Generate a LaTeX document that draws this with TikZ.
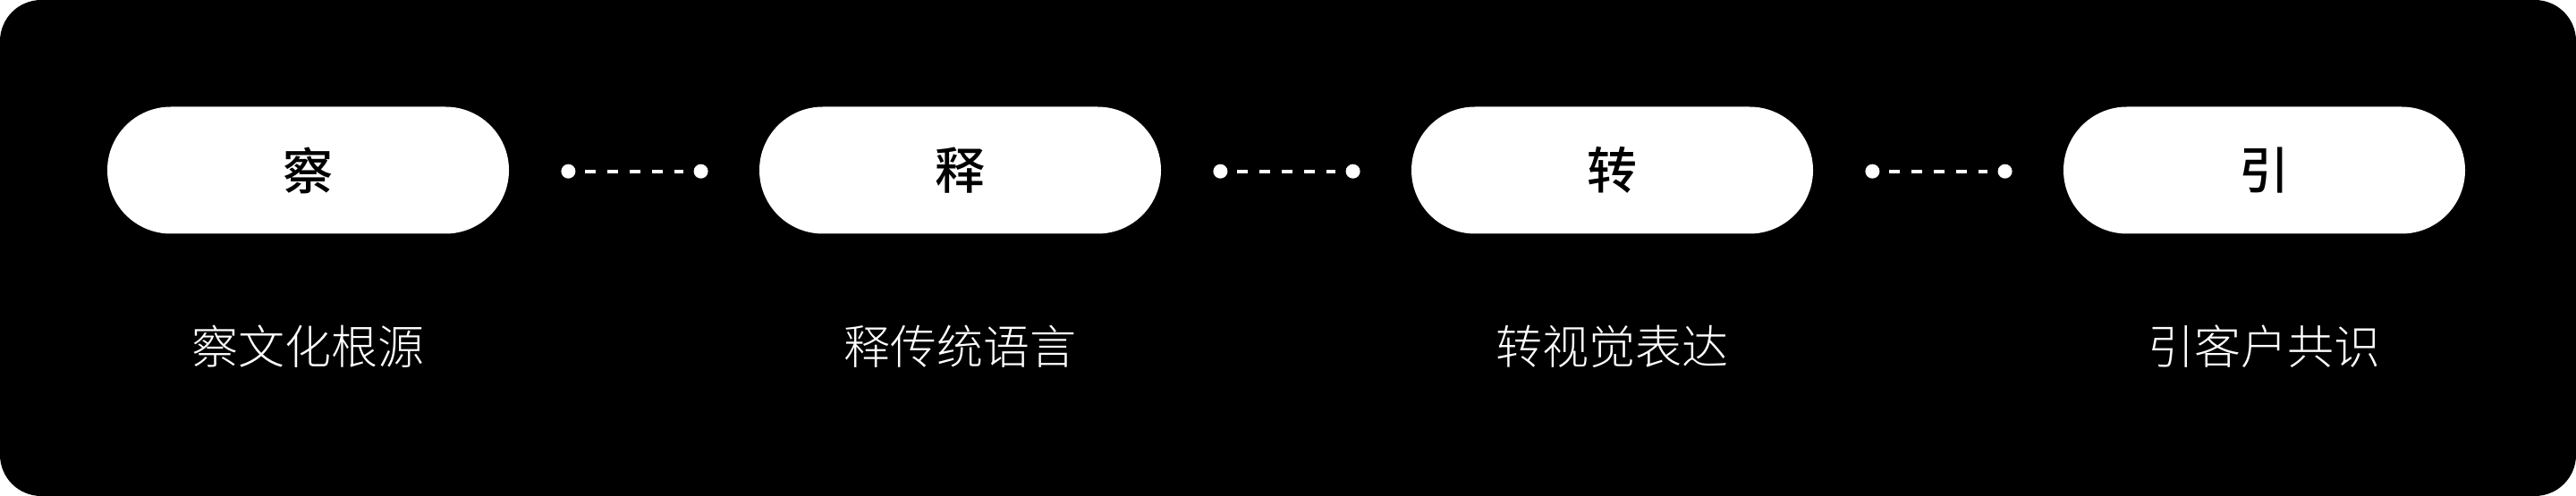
\documentclass[tikz,border=0pt]{standalone}
\usepackage{fontspec}
\newfontfamily\cjkmed{Noto Sans CJK SC Medium}
\newfontfamily\cjklight{Noto Sans CJK SC Light}
\usepackage{tikz}
\usetikzlibrary{arrows,positioning}

\begin{document}
\begin{tikzpicture}[
pill/.style={fill=white,rounded corners=35.5pt,minimum width=224.5pt,minimum height=71pt,inner sep=0pt,font=\cjkmed\fontsize{28}{28}\selectfont},
caption/.style={text=white,font=\cjklight\fontsize{26}{26}\selectfont},
dot/.style={circle,fill=white,minimum size=8pt,inner sep=0pt},
link/.style={white,line width=2pt,dash pattern=on 6.25pt off 6.25pt,shorten <=5pt,shorten >=5.5pt},
node distance = 364.5pt]
\useasboundingbox (0,0) rectangle (1440pt,-277.5pt);
\fill[white] (0,0) rectangle (1440pt,-277.5pt);
\fill[black,rounded corners=23pt] (0,0) rectangle (1440pt,-277.5pt);

\node[pill] (0) at (172.25pt,-95.25pt) {察};
\node[pill,right of=0] (1) {释};
\node[pill,right of=1] (2) {转};
\node[pill,right of=2] (3) {引};

\node[node distance = 98.5pt,below of=0,caption] {察文化根源};
\node[node distance = 98.5pt,below of=1,caption] {释传统语言};
\node[node distance = 98.5pt,below of=2,caption] {转视觉表达};
\node[node distance = 98.5pt,below of=3,caption] {引客户共识};

\foreach \x in {0,1,2}{
\pgfmathtruncatemacro{\xn}{\x+1}
\node[dot] (a\x) at ([xshift=33pt,yshift=-0.6pt]\x.east) {};
\node[dot] (b\x) at ([xshift=-32.5pt,yshift=-0.6pt]\xn.west) {};
\draw[link] (a\x) -- (b\x);
}

\end{tikzpicture}
\end{document}
